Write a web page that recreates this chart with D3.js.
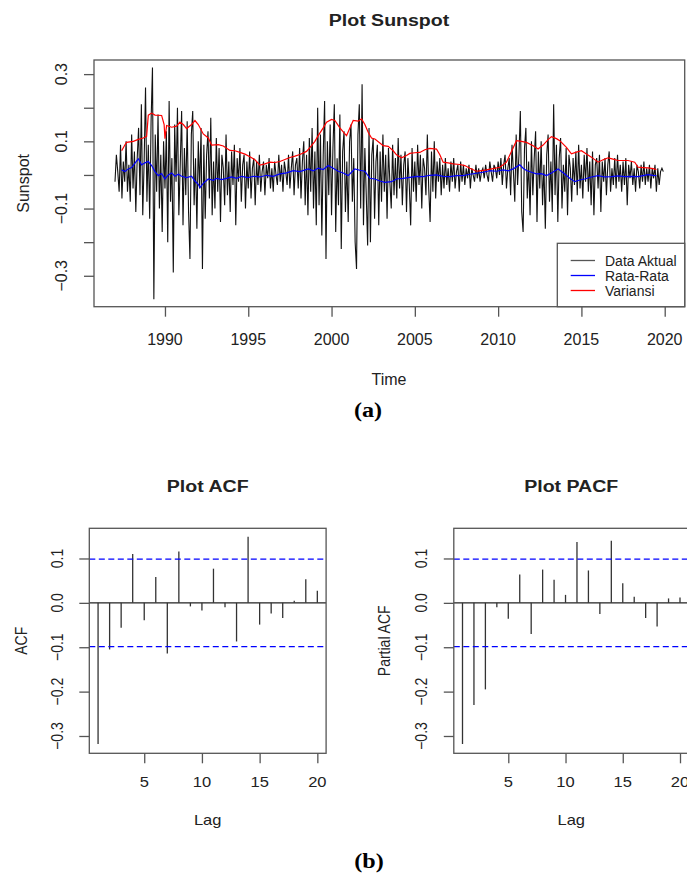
<!DOCTYPE html>
<html>
<head>
<meta charset="utf-8">
<script src="https://cdn.jsdelivr.net/npm/d3@7"></script>
<style>
  body { margin: 0; background: #fff; }
  svg text { font-family: "Liberation Sans", Arial, sans-serif; fill: #222; }
</style>
</head>
<body>
<svg id="fig" width="687" height="874"></svg>
<script>
// data deret waktu bulanan, mulai Jan 1987
const tahunAwal = 1987;
const aktual = [
  -0.02, 0.06, 0.01, -0.05, 0.09, -0.07, 0.04, -0.02, 0.10, -0.05, 0.03, -0.08, // 1987
  0.12, -0.04, 0.07, -0.11, 0.05, 0.14, -0.06, 0.21, -0.12, 0.04, 0.26, -0.08,   // 1988
  0.09, -0.13, 0.16, 0.32, -0.37, 0.12, -0.05, 0.18, -0.10, 0.06, -0.17, 0.10,   // 1989
  -0.04, 0.13, -0.20, 0.22, -0.08, 0.05, -0.29, 0.15, -0.02, 0.20, -0.12, 0.03,  // 1990
  0.19, -0.15, 0.08, -0.06, 0.16, -0.11, -0.25, 0.12, 0.19, -0.09, 0.05, -0.16, // 1991
  0.10, -0.04, 0.14, -0.28, 0.09, -0.13, 0.06, 0.13, -0.07, 0.17, -0.12, 0.04,   // 1992
  -0.10, 0.11, -0.05, 0.08, -0.14, 0.06, 0.02, -0.09, 0.12, -0.06, 0.04, -0.11,  // 1993
  0.07, -0.03, 0.09, -0.15, 0.05, -0.02, 0.08, -0.08, 0.03, 0.06, -0.10, 0.04,   // 1994
  -0.04, 0.07, -0.07, 0.02, 0.05, -0.09, 0.04, -0.03, 0.06, -0.05, 0.01, 0.04,   // 1995
  -0.06, 0.03, -0.01, 0.05, -0.04, 0.02, -0.05, 0.04, 0.00, -0.03, 0.06, -0.02,  // 1996
  0.03, -0.05, 0.04, 0.01, -0.03, 0.06, -0.04, 0.02, 0.07, -0.06, 0.03, 0.05,    // 1997
  -0.04, 0.08, -0.07, 0.04, 0.10, -0.09, 0.06, -0.12, 0.11, -0.05, 0.14, -0.10,  // 1998
  0.07, -0.15, 0.20, -0.09, 0.12, -0.18, 0.06, 0.22, -0.25, 0.10, -0.06, 0.15,   // 1999
  -0.12, 0.08, 0.21, -0.17, 0.05, -0.09, 0.18, -0.22, 0.07, 0.13, -0.11, 0.04,   // 2000
  -0.14, 0.10, 0.15, -0.08, 0.05, -0.20, -0.28, 0.12, 0.21, -0.10, 0.27, -0.15,  // 2001
  0.08, -0.06, -0.21, 0.14, -0.20, 0.06, 0.11, -0.13, 0.04, 0.09, -0.15, 0.07,   // 2002
  -0.08, 0.12, -0.05, 0.06, -0.13, 0.08, -0.02, -0.10, 0.09, -0.06, 0.05, -0.07, // 2003
  0.11, -0.04, 0.06, -0.09, 0.03, 0.07, -0.11, 0.05, -0.03, -0.15, 0.08, -0.05,  // 2004
  0.04, -0.08, 0.09, -0.03, 0.06, -0.10, 0.05, 0.02, -0.06, 0.12, -0.04, -0.14,  // 2005
  0.07, -0.05, 0.10, -0.07, 0.04, -0.02, 0.05, -0.06, 0.03, -0.04, 0.05, -0.03,  // 2006
  0.02, -0.05, 0.04, -0.02, 0.05, -0.04, 0.01, 0.03, -0.05, 0.04, -0.02, 0.03,   // 2007
  -0.03, 0.02, -0.01, 0.03, -0.04, 0.02, 0.00, -0.02, 0.03, -0.01, 0.02, -0.02,  // 2008
  0.01, 0.02, -0.01, 0.03, 0.00, -0.02, 0.04, 0.01, -0.02, 0.03, 0.02, -0.01,    // 2009
  0.04, 0.00, 0.05, -0.03, 0.03, 0.06, -0.04, 0.02, 0.05, -0.06, 0.09, 0.01,     // 2010
  -0.08, 0.12, -0.03, 0.06, 0.19, -0.11, -0.17, 0.08, 0.14, -0.07, 0.04, -0.12,  // 2011
  0.10, -0.06, 0.05, 0.13, -0.14, 0.07, -0.04, 0.10, -0.09, 0.03, -0.16, 0.06,   // 2012
  0.12, -0.08, 0.04, -0.11, 0.21, -0.06, 0.09, -0.14, 0.05, 0.11, -0.10, 0.03,   // 2013
  -0.05, 0.08, -0.12, 0.06, 0.02, -0.08, 0.05, -0.03, 0.07, -0.06, 0.09, -0.04,  // 2014
  0.03, -0.07, 0.06, -0.02, 0.08, -0.05, 0.04, -0.09, 0.07, -0.12, 0.03, 0.05,   // 2015
  -0.04, 0.06, -0.11, 0.04, -0.02, 0.05, -0.06, 0.03, 0.07, -0.05, 0.02, -0.03,  // 2016
  0.05, -0.04, 0.06, -0.02, 0.03, -0.05, 0.04, -0.03, 0.05, -0.09, 0.03, -0.01,  // 2017
  0.04, -0.03, 0.02, -0.05, 0.03, 0.01, -0.04, 0.03, -0.02, 0.04, -0.03, 0.02,   // 2018
  -0.02, 0.03, -0.04, 0.02, -0.01, 0.03, -0.05, 0.02, -0.03, 0.01, 0.02, 0.01    // 2019
];

// rata-rata bergerak [tahun, nilai]
const rataRata = [
  [1987.4,0.015],[1987.6,0.010],[1987.8,0.018],[1988.0,0.022],[1988.2,0.035],[1988.4,0.048],
  [1988.6,0.030],[1988.8,0.036],[1989.0,0.040],[1989.2,0.028],[1989.4,0.010],[1989.6,-0.002],
  [1989.8,0.004],[1990.0,-0.012],[1990.2,0.000],[1990.4,0.006],[1990.6,-0.004],[1990.8,0.002],
  [1991.0,-0.004],[1991.3,-0.008],[1991.6,-0.004],[1991.8,-0.018],[1992.0,-0.028],[1992.1,-0.038],
  [1992.3,-0.025],[1992.6,-0.012],[1992.9,-0.016],[1993.1,-0.010],[1993.4,-0.014],[1993.7,-0.010],
  [1994.0,-0.006],[1994.3,-0.010],[1994.6,-0.004],[1995.0,-0.008],[1995.3,-0.004],[1995.7,-0.006],
  [1996.1,-0.001],[1996.5,-0.004],[1996.9,0.003],[1997.3,0.006],[1997.7,0.013],[1998.1,0.010],
  [1998.6,0.018],[1998.9,0.012],[1999.2,0.020],[1999.5,0.016],[1999.8,0.028],[2000.1,0.020],
  [2000.4,0.011],[2000.7,0.006],[2001.0,-0.002],[2001.2,0.008],[2001.4,0.018],[2001.7,0.014],
  [2002.0,0.011],[2002.3,-0.010],[2002.6,-0.012],[2002.9,-0.018],[2003.2,-0.022],[2003.6,-0.020],
  [2003.9,-0.012],[2004.3,-0.010],[2004.7,-0.007],[2005.1,-0.004],[2005.5,-0.005],[2005.9,-0.001],
  [2006.3,0.000],[2006.7,-0.004],[2007.1,-0.005],[2007.5,-0.002],[2007.9,-0.002],[2008.3,0.002],
  [2008.7,0.005],[2009.1,0.008],[2009.5,0.013],[2009.9,0.011],[2010.3,0.015],[2010.6,0.012],
  [2010.9,0.018],[2011.1,0.024],[2011.3,0.030],[2011.5,0.020],[2011.7,0.013],[2012.0,0.008],
  [2012.3,0.003],[2012.6,0.004],[2012.9,-0.002],[2013.2,0.006],[2013.5,0.015],[2013.6,0.018],
  [2013.8,0.010],[2014.0,0.003],[2014.3,-0.010],[2014.6,-0.020],[2014.9,-0.015],[2015.2,-0.012],
  [2015.6,-0.006],[2016.0,-0.002],[2016.4,-0.006],[2016.8,-0.005],[2017.2,-0.003],[2017.6,-0.005],
  [2018.0,-0.004],[2018.4,-0.005],[2018.7,-0.002],[2019.0,0.001],[2019.3,-0.001],[2019.5,-0.002]
];

// variansi bergerak [tahun, nilai]
const variansi = [
  [1987.4,0.072],[1987.6,0.090],[1987.7,0.097],[1988.1,0.100],[1988.4,0.106],[1988.7,0.110],
  [1988.9,0.115],[1989.0,0.178],[1989.2,0.184],[1989.4,0.178],[1989.8,0.177],[1989.95,0.150],
  [1990.0,0.108],[1990.1,0.147],[1990.4,0.142],[1990.7,0.145],[1990.9,0.157],[1991.1,0.150],
  [1991.3,0.138],[1991.6,0.150],[1991.8,0.162],[1992.0,0.150],[1992.3,0.122],[1992.6,0.110],
  [1992.8,0.089],[1993.2,0.090],[1993.5,0.086],[1993.9,0.073],[1994.2,0.072],[1994.5,0.067],
  [1994.8,0.062],[1995.1,0.054],[1995.4,0.045],[1995.7,0.029],[1996.0,0.033],[1996.3,0.038],
  [1996.6,0.037],[1996.9,0.040],[1997.2,0.046],[1997.5,0.052],[1997.8,0.056],[1998.1,0.061],
  [1998.5,0.070],[1998.8,0.087],[1999.0,0.100],[1999.2,0.117],[1999.5,0.140],[1999.7,0.157],
  [2000.0,0.165],[2000.2,0.162],[2000.5,0.140],[2000.7,0.128],[2000.9,0.117],[2001.1,0.140],
  [2001.3,0.162],[2001.6,0.160],[2001.8,0.167],[2002.0,0.150],[2002.2,0.127],[2002.4,0.110],
  [2002.6,0.107],[2002.9,0.095],[2003.1,0.087],[2003.4,0.085],[2003.7,0.072],[2003.9,0.060],
  [2004.2,0.051],[2004.5,0.058],[2004.7,0.064],[2005.0,0.066],[2005.3,0.067],[2005.6,0.075],
  [2005.9,0.079],[2006.3,0.077],[2006.5,0.060],[2006.7,0.038],[2007.0,0.036],[2007.3,0.033],
  [2007.7,0.031],[2008.0,0.028],[2008.3,0.020],[2008.7,0.011],[2009.0,0.013],[2009.3,0.015],
  [2009.7,0.019],[2010.1,0.023],[2010.3,0.030],[2010.5,0.038],[2010.8,0.070],[2011.1,0.102],
  [2011.4,0.100],[2011.7,0.097],[2012.1,0.087],[2012.4,0.077],[2012.7,0.089],[2013.0,0.105],
  [2013.2,0.114],[2013.5,0.108],[2013.7,0.102],[2014.1,0.082],[2014.4,0.063],[2014.7,0.068],
  [2015.0,0.072],[2015.3,0.062],[2015.6,0.053],[2016.0,0.038],[2016.3,0.045],[2016.6,0.051],
  [2016.9,0.047],[2017.2,0.043],[2017.8,0.043],[2018.2,0.038],[2018.4,0.023],[2018.7,0.022],
  [2019.0,0.021],[2019.3,0.019],[2019.5,0.016]
];

const tickTahun = [1990, 1995, 2000, 2005, 2010, 2015, 2020];
const tickSunspot = [-0.3, -0.2, -0.1, 0.0, 0.1, 0.2, 0.3];
const labelSunspot = [-0.3, -0.1, 0.1, 0.3];

const legendNama = ["Data Aktual", "Rata-Rata", "Variansi"];
const legendWarna = ["#555", "blue", "red"];

// ACF dan PACF, lag 1..20
const lag = d3.range(1, 21);
const nilaiACF = [-0.318, -0.105, -0.056, 0.110, -0.039, 0.058, -0.114, 0.116, -0.008, -0.017,
                  0.077, -0.010, -0.087, 0.149, -0.049, -0.024, -0.034, 0.005, 0.053, 0.027];
const nilaiPACF = [-0.318, -0.230, -0.195, -0.010, -0.036, 0.064, -0.070, 0.075, 0.052, 0.018,
                   0.137, 0.073, -0.025, 0.140, 0.044, 0.014, -0.034, -0.053, 0.010, 0.012];
const batasCI = 0.0985;
const tickLag = [5, 10, 15, 20];
const tickKorelasi = [-0.3, -0.2, -0.1, 0.0, 0.1];

const svg = d3.select("#fig");
svg.append("rect").attr("width", 687).attr("height", 874).attr("fill", "#fff");

const garisAxis = "#555";

// helper teks, sx = regangan horizontal
function teks(g, x, y, s, o) {
  o = o || {};
  const sx = o.sx || 1;
  let tr = `translate(${x},${y}) scale(${sx},1)`;
  if (o.rot) tr += " rotate(-90)";
  return g.append("text")
    .attr("transform", tr)
    .attr("text-anchor", o.anchor || "middle")
    .style("font-size", (o.size || 16) + "px")
    .style("font-weight", o.bold ? "bold" : null)
    .style("font-family", o.serif ? "'Liberation Serif', 'Times New Roman', serif" : null)
    .style("fill", o.fill || null)
    .text(s);
}

// ===== Plot Sunspot =====
const x = d3.scaleLinear().domain([1985.74, 2021.2]).range([94, 684.7]);
const y = d3.scaleLinear().domain([-0.392, 0.342]).range([306.7, 60]);

const gTop = svg.append("g");

const lineAktual = d3.line()
  .x((d, i) => x(tahunAwal + i / 12))
  .y(d => y(d));
gTop.append("path").datum(aktual)
  .attr("d", lineAktual)
  .attr("fill", "none").attr("stroke", "#111").attr("stroke-width", 1.1);

const linePair = d3.line().x(d => x(d[0])).y(d => y(d[1]));
gTop.append("path").datum(rataRata)
  .attr("d", linePair)
  .attr("fill", "none").attr("stroke", "blue").attr("stroke-width", 1.2);
gTop.append("path").datum(variansi)
  .attr("d", linePair)
  .attr("fill", "none").attr("stroke", "red").attr("stroke-width", 1.2);

// kotak plot
gTop.append("rect")
  .attr("x", x.range()[0]).attr("y", y.range()[1])
  .attr("width", x.range()[1] - x.range()[0])
  .attr("height", y.range()[0] - y.range()[1])
  .attr("fill", "none").attr("stroke", garisAxis).attr("stroke-width", 1.3);

// sumbu x
const axX = gTop.append("g").attr("transform", `translate(0,${y.range()[0]})`)
  .call(d3.axisBottom(x).tickValues(tickTahun).tickSize(10).tickFormat(""));
axX.select(".domain").remove();
axX.selectAll("line").attr("stroke", garisAxis).attr("stroke-width", 1.3);
tickTahun.forEach(t => teks(gTop, x(t), 345, t, { size: 16 }));

// sumbu y
const axY = gTop.append("g").attr("transform", `translate(${x.range()[0]},0)`)
  .call(d3.axisLeft(y).tickValues(tickSunspot).tickSize(10).tickFormat(""));
axY.select(".domain").remove();
axY.selectAll("line").attr("stroke", garisAxis).attr("stroke-width", 1.3);
labelSunspot.forEach(v => teks(gTop, 67, y(v), d3.format(".1f")(v), { size: 16, rot: true }));

teks(gTop, 389, 26, "Plot Sunspot", { size: 17, bold: true, sx: 1.15 });
teks(gTop, 389, 385, "Time", { size: 16 });
teks(gTop, 29, (y.range()[0] + y.range()[1]) / 2, "Sunspot", { size: 16, rot: true });
teks(svg, 368, 417, "(a)", { size: 21, bold: true, serif: true, sx: 1.15, fill: "#000" });

// legenda
const gLeg = gTop.append("g");
gLeg.append("rect")
  .attr("x", 557.3).attr("y", 243.3).attr("width", 684.7 - 557.3).attr("height", 306.7 - 243.3)
  .attr("fill", "#fff").attr("stroke", garisAxis).attr("stroke-width", 1.3);
legendNama.forEach((n, i) => {
  const yy = 260.5 + i * 15;
  gLeg.append("line").attr("x1", 570.7).attr("x2", 595).attr("y1", yy).attr("y2", yy)
    .attr("stroke", legendWarna[i]).attr("stroke-width", 1.3);
  teks(gLeg, 605, yy + 5, n, { size: 14, anchor: "start" });
});

// ===== ACF / PACF =====
function korelogram(kiri, kanan, nilai, judul, labelY, xTickLabel, xLabelY) {
  const g = svg.append("g");
  const sx = d3.scaleLinear().domain([0.24, 20.76]).range([kiri, kanan]);
  const sy = d3.scaleLinear().domain([-0.339, 0.168]).range([753.3, 528.3]);
  const regang = 1.18;

  // garis nol
  g.append("line").attr("x1", kiri).attr("x2", kanan).attr("y1", sy(0)).attr("y2", sy(0))
    .attr("stroke", "#222").attr("stroke-width", 1.2);

  // batang
  g.selectAll("line.bar").data(lag).enter().append("line")
    .attr("class", "bar")
    .attr("x1", d => sx(d)).attr("x2", d => sx(d))
    .attr("y1", sy(0)).attr("y2", (d, i) => sy(nilai[i]))
    .attr("stroke", "#333").attr("stroke-width", 1.3);

  // batas kepercayaan
  [batasCI, -batasCI].forEach(c => {
    g.append("line").attr("x1", kiri).attr("x2", kanan).attr("y1", sy(c)).attr("y2", sy(c))
      .attr("stroke", "blue").attr("stroke-width", 1.2).attr("stroke-dasharray", "6,3.5");
  });

  g.append("rect")
    .attr("x", kiri).attr("y", 528.3).attr("width", kanan - kiri).attr("height", 753.3 - 528.3)
    .attr("fill", "none").attr("stroke", garisAxis).attr("stroke-width", 1.3);

  const ax = g.append("g").attr("transform", "translate(0,753.3)")
    .call(d3.axisBottom(sx).tickValues(tickLag).tickSize(10).tickFormat(""));
  ax.select(".domain").remove();
  ax.selectAll("line").attr("stroke", garisAxis).attr("stroke-width", 1.3);
  tickLag.forEach(t => teks(g, sx(t), 787, t, { size: 14, sx: regang }));

  const ay = g.append("g").attr("transform", `translate(${kiri},0)`)
    .call(d3.axisLeft(sy).tickValues(tickKorelasi).tickSize(10).tickFormat(""));
  ay.select(".domain").remove();
  ay.selectAll("line").attr("stroke", garisAxis).attr("stroke-width", 1.3);
  tickKorelasi.forEach(v => teks(g, xTickLabel, sy(v), d3.format(".1f")(v), { size: 14, rot: true, sx: regang }));

  teks(g, (kiri + kanan) / 2, 492, judul, { size: 17, bold: true, sx: 1.15 });
  teks(g, (kiri + kanan) / 2, 825, "Lag", { size: 14, sx: regang });
  teks(g, xLabelY, 640.8, labelY, { size: 14, rot: true, sx: regang });
}

korelogram(89.3, 326.1, nilaiACF, "Plot ACF", "ACF", 63.3, 26.7);
korelogram(453.8, 688.7, nilaiPACF, "Plot PACF", "Partial ACF", 427, 390);

teks(svg, 369, 868, "(b)", { size: 21, bold: true, serif: true, sx: 1.15, fill: "#000" });
</script>
</body>
</html>
